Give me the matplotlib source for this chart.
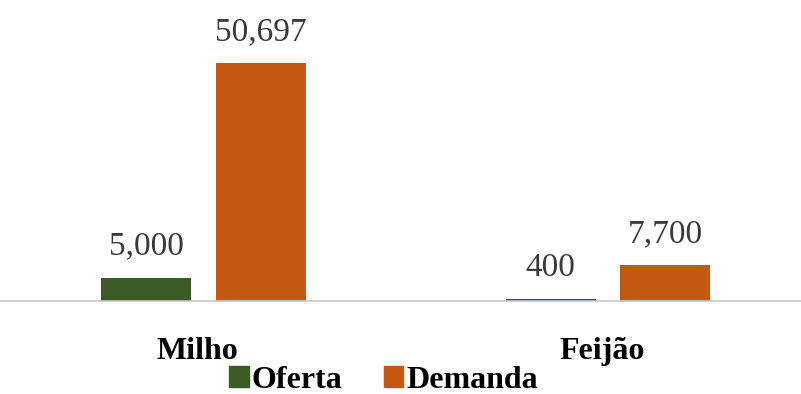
import numpy as np
import matplotlib.pyplot as plt
from matplotlib.patches import Patch

categorias = ['Milho', 'Feijão']
oferta = [5000, 400]
demanda = [50697, 7700]
rotulos_oferta = ['5,000', '400']
rotulos_demanda = ['50,697', '7,700']

verde = '#3b5b25'
laranja = '#c65911'

plt.rcParams['font.family'] = ['Liberation Serif', 'DejaVu Serif']

fig = plt.figure(figsize=(8.01, 3.94), dpi=100)
ax = fig.add_axes([0, 0.236, 1, 0.604])

x = np.arange(len(categorias))
w = 0.2225
off = 0.142
b1 = ax.bar(x - off, oferta, w, color=verde)
b2 = ax.bar(x + off, demanda, w, color=laranja)

for bars, labs in ((b1, rotulos_oferta), (b2, rotulos_demanda)):
    for r, t in zip(bars, labs):
        ax.annotate(t, (r.get_x() + r.get_width() / 2, r.get_height()),
                    xytext=(0, 11.5), textcoords='offset points',
                    ha='center', va='bottom', fontsize=24, color='#3a3a3a')

ax.set_xlim(-0.503, 1.477)
ax.set_ylim(0, 50697)
ax.set_yticks([])
ax.set_xticks(x - 0.015)
ax.set_xticklabels(categorias, fontsize=23, fontweight='bold')
ax.tick_params(axis='x', length=0, pad=26)
for s in ['top', 'left', 'right']:
    ax.spines[s].set_visible(False)
ax.spines['bottom'].set_color('#c8c8c8')
ax.spines['bottom'].set_linewidth(1.2)

handles = [Patch(color=verde, label='Oferta'), Patch(color=laranja, label='Demanda')]
fig.legend(handles=handles, loc='center', bbox_to_anchor=(0.479, 0.035), ncol=2,
           frameon=False, prop={'size': 23, 'weight': 'bold'},
           handlelength=0.6, handleheight=0.6, handletextpad=0.1, columnspacing=1.3,
           borderpad=0, borderaxespad=0)

fig.savefig('out.png', dpi=100)
